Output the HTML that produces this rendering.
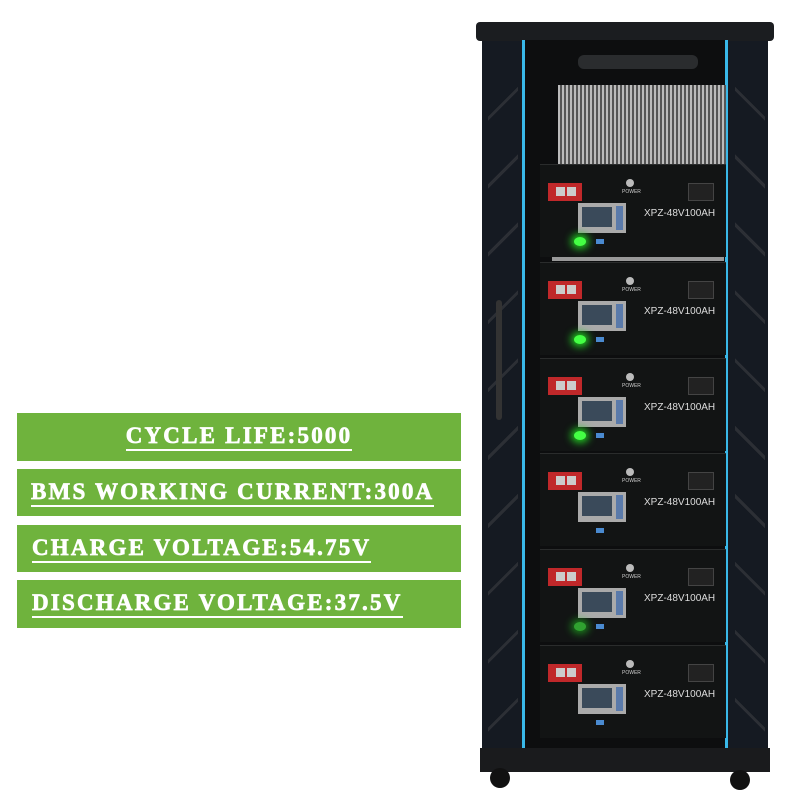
<!DOCTYPE html>
<html><head><style>
body{margin:0;width:800px;height:800px;background:#fff;position:relative;overflow:hidden;font-family:"Liberation Serif",serif}
.b{position:absolute;left:17px;width:444px;background:#6fb33d;color:#fff;font-weight:bold;font-size:23px;line-height:46px;white-space:nowrap;letter-spacing:2.2px;-webkit-text-stroke:0.7px #fff}
.b span{border-bottom:2px solid #fff;padding-bottom:1px}
.a{position:absolute}
.mod{position:absolute;left:540px;width:186px;height:92px;background:#121414;border-top:1px solid #2a2c2c}
.red{position:absolute;left:8px;top:18px;width:34px;height:18px;background:#c0282a}
.red:before,.red:after{content:"";position:absolute;top:4px;width:9px;height:9px;background:#ccc}
.red:before{left:8px}.red:after{left:19px}
.lcd{position:absolute;left:38px;top:38px;width:48px;height:30px;background:#aaa}
.lcd i{position:absolute;left:4px;top:4px;width:30px;height:20px;background:#3a4a5a}
.lcd b{position:absolute;right:3px;top:3px;width:7px;height:24px;background:#5a7aaa}
.knob{position:absolute;left:86px;top:14px;width:8px;height:8px;border-radius:50%;background:#bbb}
.pw{position:absolute;left:82px;top:24px;font:5px "Liberation Sans",sans-serif;color:#ccc}
.lbl{position:absolute;left:104px;top:43px;font:10px "Liberation Sans",sans-serif;color:#ddd}
.term{position:absolute;left:148px;top:18px;width:24px;height:16px;background:#222;border:1px solid #444}
.led{position:absolute;left:34px;top:72px;width:12px;height:9px;border-radius:50%;background:#4f4;box-shadow:0 0 8px 3px #2c2}
.blue{position:absolute;top:74px;width:8px;height:5px;background:#4a8ad0;left:56px}
.side{position:absolute;top:60px;width:30px;height:680px;background:repeating-linear-gradient(135deg,transparent 0 40px,#2c2f35 40px 43px,transparent 43px 48px)}
</style></head><body>
<div class="b" style="top:413px;height:48px;text-align:center"><span>CYCLE LIFE:5000</span></div>
<div class="b" style="top:469px;height:47px;padding-left:14px;width:430px"><span>BMS WORKING CURRENT:300A</span></div>
<div class="b" style="top:525px;height:47px;padding-left:15px;width:429px"><span>CHARGE VOLTAGE:54.75V</span></div>
<div class="b" style="top:580px;height:48px;padding-left:15px;width:429px"><span>DISCHARGE VOLTAGE:37.5V</span></div>

<div class="a" style="left:482px;top:38px;width:286px;height:712px;background:#151a22"></div>
<div class="side" style="left:488px"></div>
<div class="side" style="left:735px;transform:scaleX(-1)"></div>
<div class="a" style="left:476px;top:22px;width:298px;height:19px;background:#1b1d20;border-radius:4px"></div>
<div class="a" style="left:522px;top:40px;width:3px;height:708px;background:#39b8e8"></div>
<div class="a" style="left:725px;top:40px;width:3px;height:708px;background:#39b8e8"></div>
<div class="a" style="left:525px;top:40px;width:200px;height:708px;background:#0d0e0f"></div>
<div class="a" style="left:578px;top:55px;width:120px;height:14px;background:#2a2c2e;border-radius:6px"></div>
<div class="a" style="left:558px;top:85px;width:168px;height:80px;background:repeating-linear-gradient(90deg,#bbb 0 2px,#555 2px 4px)"></div>
<div class="a" style="left:552px;top:255px;width:172px;height:6px;background:#999"></div>
<div class="a" style="left:496px;top:300px;width:6px;height:120px;background:#333;border-radius:3px"></div>

<div class="mod" style="top:164px"><div class="red"></div><div class="knob"></div><div class="pw">POWER</div><div class="lcd"><i></i><b></b></div><div class="lbl">XPZ-48V100AH</div><div class="term"></div><div class="led"></div><div class="blue"></div></div>
<div class="mod" style="top:262px"><div class="red"></div><div class="knob"></div><div class="pw">POWER</div><div class="lcd"><i></i><b></b></div><div class="lbl">XPZ-48V100AH</div><div class="term"></div><div class="led"></div><div class="blue"></div></div>
<div class="mod" style="top:358px"><div class="red"></div><div class="knob"></div><div class="pw">POWER</div><div class="lcd"><i></i><b></b></div><div class="lbl">XPZ-48V100AH</div><div class="term"></div><div class="led"></div><div class="blue"></div></div>
<div class="mod" style="top:453px"><div class="red"></div><div class="knob"></div><div class="pw">POWER</div><div class="lcd"><i></i><b></b></div><div class="lbl">XPZ-48V100AH</div><div class="term"></div><div class="blue"></div></div>
<div class="mod" style="top:549px"><div class="red"></div><div class="knob"></div><div class="pw">POWER</div><div class="lcd"><i></i><b></b></div><div class="lbl">XPZ-48V100AH</div><div class="term"></div><div class="led" style="opacity:.6"></div><div class="blue"></div></div>
<div class="mod" style="top:645px"><div class="red"></div><div class="knob"></div><div class="pw">POWER</div><div class="lcd"><i></i><b></b></div><div class="lbl">XPZ-48V100AH</div><div class="term"></div><div class="blue"></div></div>

<div class="a" style="left:480px;top:748px;width:290px;height:24px;background:#1a1b1d"></div>
<div class="a" style="left:490px;top:768px;width:20px;height:20px;border-radius:50%;background:#111"></div>
<div class="a" style="left:730px;top:770px;width:20px;height:20px;border-radius:50%;background:#111"></div>
</body></html>
